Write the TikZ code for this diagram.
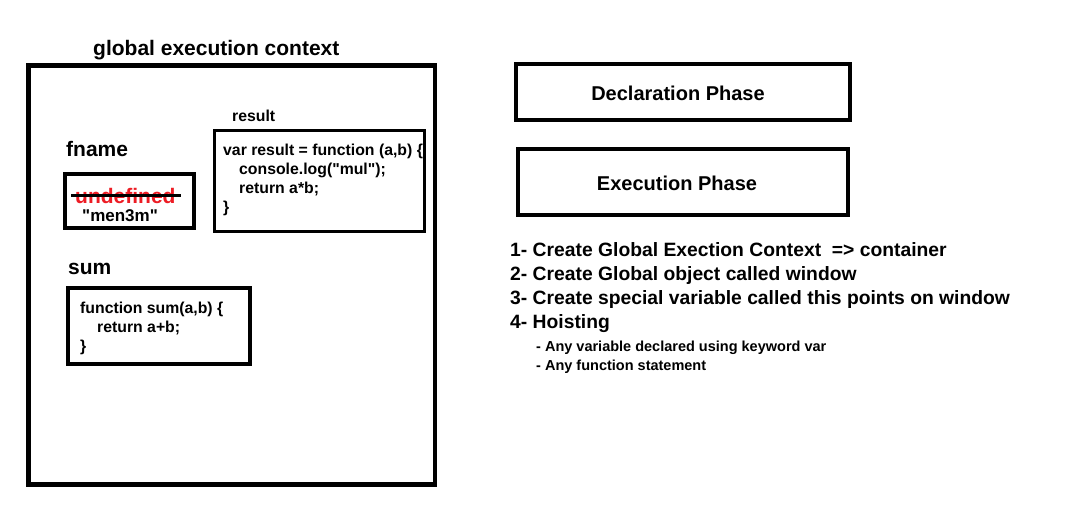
\documentclass[tikz,border=0pt]{standalone}
\usepackage{fontspec}
\setmainfont{Liberation Sans}
\usepackage{tikz}
\usetikzlibrary{calc}
\definecolor{undefred}{RGB}{237,28,36}
\tikzset{
  thickbox/.style={draw=black,line width=4.5pt},
  thinbox/.style={draw=black,line width=3pt},
  lbl/.style={anchor=base west,inner sep=0pt,font=\bfseries\fontsize{21}{25}\selectfont},
  codeln/.style={anchor=base west,inner sep=0pt,font=\bfseries\fontsize{15.8}{19}\selectfont},
  phase/.style={anchor=base,inner sep=0pt,font=\bfseries\fontsize{20}{24}\selectfont},
  stepln/.style={anchor=base west,inner sep=0pt,font=\bfseries\fontsize{19.3}{24}\selectfont},
  subln/.style={anchor=base west,inner sep=0pt,font=\bfseries\fontsize{14.5}{19}\selectfont}
}
\newcommand{\dq}{\textquotedbl}
\begin{document}
\begin{tikzpicture}[x=1pt,y=-1pt]
                      \useasboundingbox[fill=white] (0,0) rectangle (1082,530);
                      % global execution context
                      \node[lbl] (gec) at (93,55) {global execution context};
                      \draw[thickbox] (28.5,65.5) rectangle (435,484.5);
                      % fname
                      \node[lbl] (fname) at (66,156) {fname};
                      \draw[thickbox] (65,174) rectangle (194,228);
                      \node[lbl,text=undefred] (undef) at (75,203) {undefined};
                      \draw[line width=3pt] (71,195) -- (181,195);
                      \node[codeln,font=\bfseries\fontsize{17}{20}\selectfont] (men) at (82,221) {\dq men3m\dq};
                      % result
                      \node[codeln] (result) at (232,121) {result};
                      \draw[thinbox] (214.5,130.5) rectangle (424.5,231.5);
                      \foreach \i/\dx/\t in {0/0/{var result = function (a,b) \{},
                                             1/16/{console.log(\dq mul\dq);},
                                             2/16/{return a*b;},
                                             3/0/{\}}}
                        \node[codeln] (res\i) at (223+\dx,155+19*\i) {\t};
                      % sum
                      \node[lbl] (sum) at (68,274) {sum};
                      \draw[thickbox] (68,288) rectangle (250,364);
                      \foreach \i/\dx/\t in {0/0/{function sum(a,b) \{},
                                             1/17/{return a+b;},
                                             2/0/{\}}}
                        \node[codeln] (sum\i) at (80+\dx,313+19*\i) {\t};
                      % phases
                      \draw[thickbox] (516,64) rectangle (850,120);
                      \node[phase] (decl) at (678,100) {Declaration Phase};
                      \draw[thickbox] (518,149) rectangle (848,215);
                      \node[phase] (exec) at (677,190) {Execution Phase};
                      % steps
                      \foreach \i/\t in {0/{1- Create Global Exection Context \ => container},
                                         1/{2- Create Global object called window},
                                         2/{3- Create special variable called this points on window},
                                         3/{4- Hoisting}}
                        \node[stepln] (st\i) at (510,256+24*\i) {\t};
                      \node[subln] (hoist0) at (536,351) {- Any variable declared using keyword var};
                      \node[subln] (hoist1) at (536,370) {- Any function statement};
                  \end{tikzpicture}
\end{document}
